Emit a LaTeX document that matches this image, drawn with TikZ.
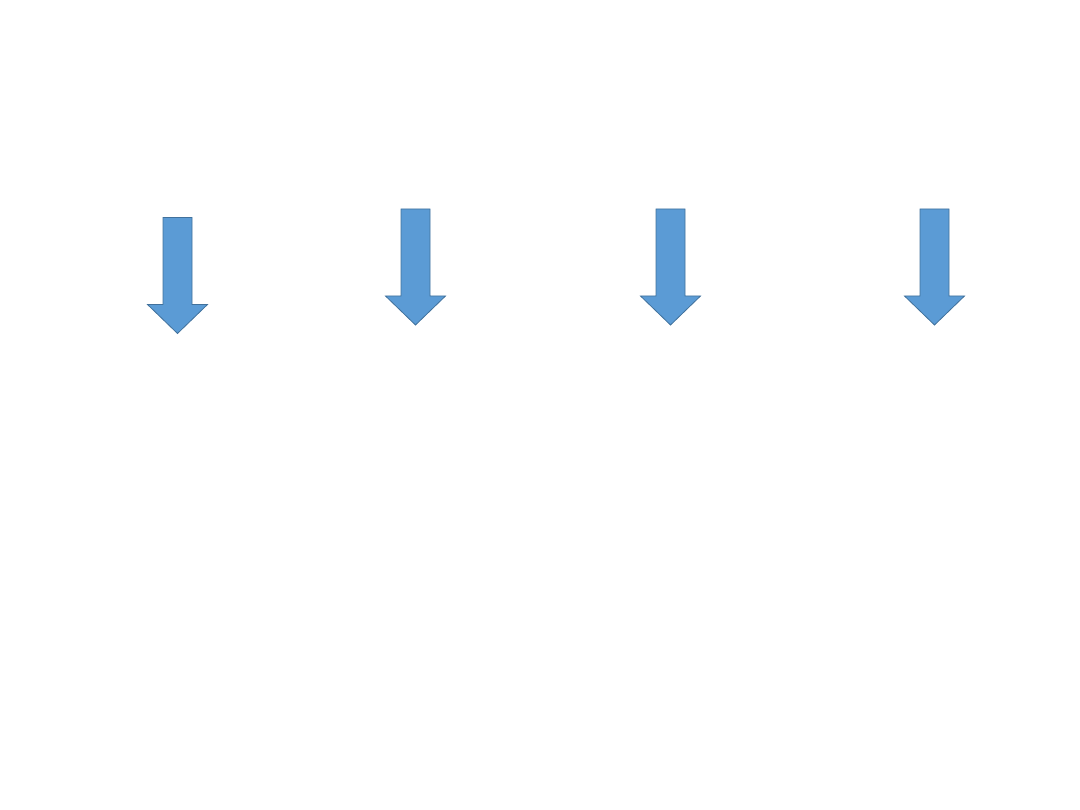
\documentclass[tikz,border=0pt]{standalone}
\definecolor{arrowfill}{HTML}{5B9BD5}
\definecolor{arrowline}{HTML}{41719C}
\tikzset{
  downarrow/.style={fill=arrowfill, draw=arrowline, line width=0.8pt, line join=miter},
  pics/darrow/.style args={#1/#2}{code={
    % #1 = top offset, #2 = total length
    \draw[downarrow] (-14.5,#1) -- (14.5,#1) -- (14.5,#1+87) -- (30,#1+87) -- (0,#1+116) -- (-30,#1+87) -- (-14.5,#1+87) -- cycle;
  }}
}
\begin{document}
\begin{tikzpicture}[x=1pt,y=-1pt]
\useasboundingbox (0,0) rectangle (1080,810);
\pic (a1) at (177.5,0) {darrow={217.5/116}};
\pic (a2) at (415.5,0) {darrow={209/116}};
\pic (a3) at (670.5,0) {darrow={209/116}};
\pic (a4) at (934.5,0) {darrow={209/116}};
\end{tikzpicture}
\end{document}
